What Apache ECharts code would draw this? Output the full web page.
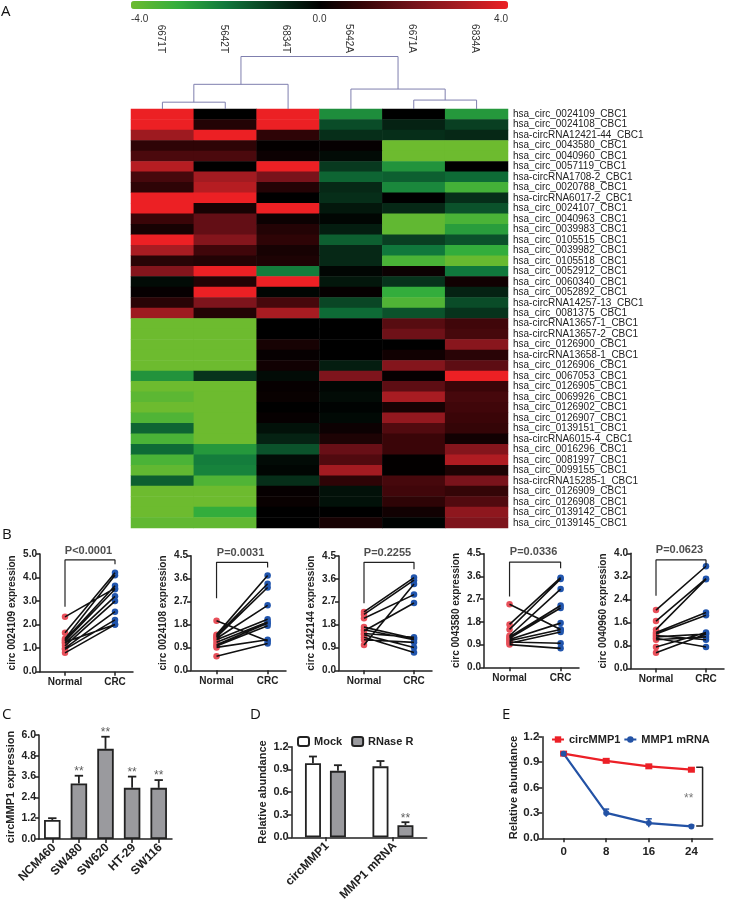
<!DOCTYPE html>
<html>
<head>
<meta charset="utf-8">
<script src="https://cdn.jsdelivr.net/npm/echarts@6/dist/echarts.min.js"></script>
<style>html,body{margin:0;padding:0;background:#fff}#c{width:736px;height:901px}</style>
</head>
<body>
<div id="c"></div>
<script>
// ---------- Panel A data ----------
const sampleLabels = ['6671T','5642T','6834T','5642A','6671A','6834A'];
const geneLabels = [
'hsa_circ_0024109_CBC1','hsa_circ_0024108_CBC1','hsa-circRNA12421-44_CBC1','hsa_circ_0043580_CBC1','hsa_circ_0040960_CBC1',
'hsa_circ_0057119_CBC1','hsa-circRNA1708-2_CBC1','hsa_circ_0020788_CBC1','hsa-circRNA6017-2_CBC1','hsa_circ_0024107_CBC1',
'hsa_circ_0040963_CBC1','hsa_circ_0039983_CBC1','hsa_circ_0105515_CBC1','hsa_circ_0039982_CBC1','hsa_circ_0105518_CBC1',
'hsa_circ_0052912_CBC1','hsa_circ_0060340_CBC1','hsa_circ_0052892_CBC1','hsa-circRNA14257-13_CBC1','hsa_circ_0081375_CBC1',
'hsa-circRNA13657-1_CBC1','hsa-circRNA13657-2_CBC1','hsa_circ_0126900_CBC1','hsa-circRNA13658-1_CBC1','hsa_circ_0126906_CBC1',
'hsa_circ_0067053_CBC1','hsa_circ_0126905_CBC1','hsa_circ_0069926_CBC1','hsa_circ_0126902_CBC1','hsa_circ_0126907_CBC1',
'hsa_circ_0139151_CBC1','hsa-circRNA6015-4_CBC1','hsa_circ_0016296_CBC1','hsa_circ_0081997_CBC1','hsa_circ_0099155_CBC1',
'hsa-circRNA15285-1_CBC1','hsa_circ_0126909_CBC1','hsa_circ_0126908_CBC1','hsa_circ_0139142_CBC1','hsa_circ_0139145_CBC1'];
const heatValues = [
[4,0,4,-2.4,0,-2.6],[4,0.6,4,-1.3,-0.6,-1.1],[2.8,4,0.8,-0.8,-0.8,-0.7],[0.8,0.8,0.05,0.1,-4,-4],[1.3,1.3,0.2,-0.2,-4,-4],
[3.2,0,4,-1,-2.5,0],[1.2,2.9,2.1,-1.7,-1.6,-1.8],[0.8,3.2,0.6,-0.7,-2.3,-3.3],[4,4,0,-0.8,0,-0.8],[4,0.4,4,-0.4,-0.7,-1.4],
[1,1.7,0.2,-0.1,-3.8,-3.4],[0.4,1.7,0.6,-0.5,-3.8,-2.7],[4,2.3,0.8,-1.6,-1.1,-1.4],[3,1.1,0.4,-0.7,-2,-3],[0.7,0.6,0.5,-0.7,-3.4,-3.9],
[2.3,4,-2.1,-0.1,0.2,-2],[-0.2,0.6,4,-0.4,-0.9,0.3],[0.1,4,-0.1,0.1,-3,-0.6],[0.7,2.2,1.2,-1.2,-3.5,-1.3],[2.8,0.6,3,-1.8,-1.4,-0.9],
[-4,-4,0,0,1.5,1.1],[-4,-4,0,0,1.9,1.2],[-4,-4,0.4,0,0,2.4],[-4,-4,0.1,0,0.3,0.7],[-4,-4,0.3,-0.5,2.3,1.6],
[-2.5,-0.9,-0.2,2.2,0.1,4],[-4,-4,0.1,-0.1,1.6,1.0],[-3.7,-4,0.15,-0.2,3,1.2],[-4,-4,0,-0.05,0.4,1.1],[-3.5,-4,0.1,-0.15,2.6,1],
[-1.7,-4,-0.3,0.2,1.4,0.9],[-3.4,-4,-0.6,0.5,1,0.3],[-1.8,-2.6,-1.4,1.8,1,2.3],[-3.4,-2.1,-0.2,1.4,0.05,3.1],[-3.8,-2.2,-0.1,2.9,0.05,0.5],
[-1.6,-3.5,-0.8,0.8,1.2,2.1],[-4,-4,0.1,-0.3,1.1,0.9],[-4,-4,0.15,-0.3,0.8,1.4],[-4,-3,0,0,0.3,2.5],[-3.8,-3.8,0,0.4,-0.05,2.2]];
// merge: left x, right x, left height, right height, merge height (column units / relative height)
const dendroMerges = [[0.5,1.5,0,0,0.13],[1,2.5,0.13,0,0.47],[4.5,5.5,0,0,0.17],[3.5,5,0,0.17,0.38],[1.75,4.25,0.47,0.38,1]];

// ---------- Panel B data ----------
const groupLabels = ['Normal','CRC'];
const normal0024109 = [2.33,1.65,1.4,1.35,1.3,1.25,1.2,1.1,1.0,0.95,0.8];
const crc0024109    = [3.55,4.2,4.1,3.65,3.5,2.0,3.2,3.0,2.55,2.2,2.0];
const normal0024108 = [1.95,1.4,1.35,1.3,1.25,1.2,1.1,1.0,0.95,0.9,0.55];
const crc0024108    = [1.15,3.72,3.4,3.25,2.55,2.0,1.9,1.85,1.75,1.2,1.05];
const normal1242144 = [2.3,2.2,2.05,1.7,1.6,1.55,1.45,1.4,1.3,1.2,1.0];
const crc1242144    = [3.65,3.55,2.98,1.25,1.2,2.65,1.3,0.9,0.7,1.1,3.4];
const normal0043580 = [2.5,1.7,1.5,1.25,1.2,1.15,1.1,1.05,1.0,0.95,0.9];
const crc0043580    = [1.5,3.55,3.5,3.1,2.45,2.35,1.75,1.5,0.95,1.4,0.75];
const normal0040960 = [2.03,1.65,1.35,1.25,1.2,1.15,1.1,1.05,1.0,0.75,0.55];
const crc0040960    = [3.55,3.12,3.1,1.95,1.85,1.0,1.2,0.75,1.1,1.25,1.2];

// ---------- Panel C data ----------
const lineLabels = ['NCM460','SW480','SW620','HT-29','SW116'];
const lineMeans  = [1.1,3.2,5.2,2.95,2.95];
const lineTops   = [1.2,3.65,5.9,3.6,3.4];

// ---------- Panel D data ----------
const treatLabels = ['circMMP1','MMP1 mRNA'];
const mockMeans   = [0.98,0.94];
const mockTops    = [1.07,1.01];
const rnaseMeans  = [0.88,0.16];
const rnaseTops   = [0.955,0.2];

// ---------- Panel E data ----------
const hourTicks  = [0,8,16,24];
const circSeries = [1.0,0.915,0.85,0.81];
const mrnaSeries = [1.0,0.3,0.18,0.14];
const mrnaErr    = [0.01,0.045,0.05,0.015];

// ---------- builders ----------
const FONT = '"Liberation Sans",Arial,sans-serif';
const INK = '#222';
const grid = [], xAxis = [], yAxis = [], series = [];
function addGrid(rect, x, y) {
  grid.push(Object.assign({containLabel:false,outerBoundsMode:'none'}, rect));
  const i = grid.length - 1;
  xAxis.push(Object.assign({gridIndex:i}, x));
  yAxis.push(Object.assign({gridIndex:i}, y));
  return i;
}
const hidden = {show:false};
function yVal(max, interval, name, gap, size, nameSize) {
  return {type:'value',min:0,max,interval,name,nameLocation:'middle',nameGap:gap,
    nameTextStyle:{fontFamily:FONT,fontWeight:'bold',fontSize:nameSize,color:INK},
    axisLine:{show:true,onZero:false,lineStyle:{color:INK,width:1.5}},
    axisTick:{show:true,length:4,lineStyle:{color:INK,width:1.5}},
    axisLabel:{margin:3,fontFamily:FONT,fontWeight:'bold',fontSize:size,color:INK,formatter:v=>v.toFixed(1)},
    splitLine:{show:false}};
}
function textSeries(g, points, style) {
  series.push({type:'scatter',xAxisIndex:g,yAxisIndex:g,symbolSize:0,silent:true,clip:false,z:6,
    data:points.map(p=>({value:[p[0],p[1]],label:{show:true,position:'inside',formatter:p[2],fontFamily:FONT,...style}}))});
}
function errSeries(g, xs, means, tops, color, offset, cap, width) {
  series.push({type:'custom',xAxisIndex:g,yAxisIndex:g,silent:true,clip:false,z:1,
    data:xs.map((x,i)=>[x,means[i],tops[i]]),
    renderItem(params, api){
      const a = api.coord([api.value(0),api.value(1)]);
      const b = api.coord([api.value(0),api.value(2)]);
      const s = {stroke:color,lineWidth:width};
      return {type:'group',children:[
        {type:'line',shape:{x1:a[0]+offset,y1:a[1],x2:a[0]+offset,y2:b[1]},style:s},
        {type:'line',shape:{x1:a[0]+offset-cap,y1:b[1],x2:a[0]+offset+cap,y2:b[1]},style:s}]};
    }});
}

// ---------- Panel A ----------
const heatG = addGrid({left:131,top:109,width:377,height:419},
  {type:'category',data:sampleLabels,position:'top',offset:52,axisLine:hidden,axisTick:hidden,
   axisLabel:{interval:0,rotate:90,margin:4,verticalAlign:'top',lineHeight:4,fontFamily:FONT,fontSize:10,color:'#333'},splitLine:hidden},
  {type:'category',data:geneLabels,inverse:true,position:'right',axisLine:hidden,axisTick:hidden,
   axisLabel:{interval:0,margin:5,fontFamily:FONT,fontSize:10,color:'#222'},splitLine:hidden});
series.push({type:'heatmap',xAxisIndex:heatG,yAxisIndex:heatG,silent:true,itemStyle:{borderWidth:0},
  data:heatValues.flatMap((row,r)=>row.map((v,c)=>[c,r,v]))});

addGrid({left:131,top:9,width:377,height:1},
  {type:'value',min:-4,max:4,interval:4,axisLine:hidden,axisTick:hidden,splitLine:hidden,
   axisLabel:{margin:4,alignMinLabel:'left',alignMaxLabel:'right',fontFamily:FONT,fontSize:10,color:'#333',formatter:v=>v.toFixed(1)}},
  {type:'value',show:false});

const dendroG = addGrid({left:131,top:56.5,width:377,height:52.5},
  {type:'value',min:0,max:6,show:false},{type:'value',min:0,max:1,show:false});
series.push({type:'line',xAxisIndex:dendroG,yAxisIndex:dendroG,symbol:'none',silent:true,clip:false,z:3,
  lineStyle:{color:'#7f7fae',width:1},
  data:dendroMerges.flatMap(m=>[[m[0],m[2]],[m[0],m[4]],[m[1],m[4]],[m[1],m[3]],[null,null]])});

// ---------- Panel B ----------
const pairPanels = [
  {left:40, top:554,  h:117.7,width:93,max:5.0,int:1.0,name:'circ 0024109 expression',nm:normal0024109,cr:crc0024109,p:'P<0.0001',br:[2.76,4.75,4.56],py:5.15},
  {left:191,top:555.7,h:114.6,width:95,max:4.5,int:0.9,name:'circ 0024108 expression',nm:normal0024108,cr:crc0024108,p:'P=0.0031',br:[2.83,4.24,4.04],py:4.6},
  {left:339,top:556,  h:114.3,width:93,max:4.5,int:0.9,name:'circ 1242144 expression',nm:normal1242144,cr:crc1242144,p:'P=0.2255',br:[2.64,4.25,3.98],py:4.6},
  {left:484,top:553.7,h:113.6,width:95,max:4.5,int:0.9,name:'circ 0043580 expression',nm:normal0043580,cr:crc0043580,p:'P=0.0336',br:[2.8,4.17,3.92],py:4.55},
  {left:631,top:553.3,h:115.3,width:93,max:4.0,int:0.8,name:'circ 0040960 expression',nm:normal0040960,cr:crc0040960,p:'P=0.0623',br:[2.53,3.77,3.57],py:4.12}];
pairPanels.forEach(p=>{
  const g = addGrid({left:p.left,top:p.top,width:p.width,height:p.h},
    {type:'value',min:-0.5,max:1.36,splitLine:hidden,
     axisLine:{show:true,onZero:false,lineStyle:{color:INK,width:1.5}},
     axisTick:{show:true,length:4,customValues:[0,1],lineStyle:{color:INK,width:1.5}},
     axisLabel:{customValues:[0,1],formatter:v=>groupLabels[v],margin:6,fontFamily:FONT,fontWeight:'bold',fontSize:10,color:INK}},
    yVal(p.max,p.int,p.name,23,10,10));
  series.push({type:'scatter',xAxisIndex:g,yAxisIndex:g,symbolSize:6.5,silent:true,clip:false,z:2,
    itemStyle:{color:'#e8505a',opacity:1},data:p.nm.map(v=>[0,v])});
  series.push({type:'scatter',xAxisIndex:g,yAxisIndex:g,symbolSize:6.5,silent:true,clip:false,z:2,
    itemStyle:{color:'#2155ad',opacity:1},data:p.cr.map(v=>[1,v])});
  series.push({type:'line',xAxisIndex:g,yAxisIndex:g,symbol:'none',silent:true,clip:false,z:3,
    lineStyle:{color:'#111',width:1.6},
    data:p.nm.flatMap((v,i)=>[[0,v],[1,p.cr[i]],[null,null]])});
  series.push({type:'line',xAxisIndex:g,yAxisIndex:g,symbol:'none',silent:true,clip:false,z:3,
    lineStyle:{color:'#222',width:1.2},
    data:[[0,p.br[0]],[0,p.br[1]],[1,p.br[1]],[1,p.br[2]]]});
  textSeries(g,[[0.47,p.py,p.p]],{fontWeight:'bold',fontSize:11,color:INK});
});

// ---------- Panel C ----------
const catLabel = {interval:0,rotate:45,margin:5,verticalAlign:'top',lineHeight:5,fontFamily:FONT,fontWeight:'bold',fontSize:12,color:INK};
const cG = addGrid({left:39,top:735,width:133,height:104},
  {type:'category',data:lineLabels,
   axisLine:{show:true,lineStyle:{color:INK,width:1.5}},
   axisTick:{show:true,alignWithLabel:true,length:4,lineStyle:{color:INK,width:1.5}},
   axisLabel:catLabel},
  yVal(6,1.2,'circMMP1 expression',23,10.5,11));
series.push({type:'bar',xAxisIndex:cG,yAxisIndex:cG,barWidth:16.5,silent:true,z:2,
  data:lineMeans.map((v,i)=>({value:v,itemStyle:{color:i===0?'#fff':'#9a9a9e',borderColor:'#222',borderWidth:1.8}}))});
errSeries(cG,lineLabels.map((_,i)=>i),lineMeans,lineTops,'#222',0,4.2,1.8);
textSeries(cG,lineLabels.slice(1).map((l,i)=>[i+1,lineTops[i+1]+0.25,'**']),{fontSize:12,color:'#333'});

// ---------- Panel D ----------
const dG = addGrid({left:291.7,top:746.7,width:135,height:90.6},
  {type:'category',data:treatLabels,
   axisLine:{show:true,lineStyle:{color:INK,width:1.5}},
   axisTick:{show:true,alignWithLabel:true,length:4,lineStyle:{color:INK,width:1.5}},
   axisLabel:catLabel},
  yVal(1.2,0.3,'Relative abundance',23,11,11));
series.push({type:'bar',name:'Mock',xAxisIndex:dG,yAxisIndex:dG,barWidth:16,barGap:'56%',silent:true,z:2,
  itemStyle:{color:'#fff',borderColor:'#222',borderWidth:1.8},data:mockMeans});
series.push({type:'bar',name:'RNase R',xAxisIndex:dG,yAxisIndex:dG,barWidth:16,barGap:'56%',silent:true,z:2,
  itemStyle:{color:'#9a9a9e',borderColor:'#222',borderWidth:1.8},data:rnaseMeans});
errSeries(dG,[0,1],mockMeans,mockTops,'#222',-12.5,4,1.8);
errSeries(dG,[0,1],rnaseMeans,rnaseTops,'#222',12.5,4,1.8);
series.push({type:'scatter',xAxisIndex:dG,yAxisIndex:dG,symbolSize:0,silent:true,clip:false,z:6,
  data:[{value:[1,rnaseTops[1]+0.05],label:{show:true,position:'inside',offset:[12.5,0],formatter:'**',fontFamily:FONT,fontSize:12,color:'#333'}}]});

// ---------- Panel E ----------
const eG = addGrid({left:542.3,top:736.7,width:170.4,height:101.6},
  {type:'value',min:-4,max:28,splitLine:hidden,
   axisLine:{show:true,onZero:false,lineStyle:{color:INK,width:1.5}},
   axisTick:{show:true,length:4,customValues:hourTicks,lineStyle:{color:INK,width:1.5}},
   axisLabel:{customValues:hourTicks,margin:8,fontFamily:FONT,fontWeight:'bold',fontSize:11.5,color:INK}},
  yVal(1.2,0.3,'Relative abundance',22,11.5,11));
series.push({type:'line',name:'circMMP1',xAxisIndex:eG,yAxisIndex:eG,symbol:'rect',symbolSize:[7,6],silent:true,clip:false,z:4,
  lineStyle:{color:'#ec2027',width:2.2},itemStyle:{color:'#ec2027'},data:hourTicks.map((h,i)=>[h,circSeries[i]])});
series.push({type:'line',name:'MMP1 mRNA',xAxisIndex:eG,yAxisIndex:eG,symbol:'circle',symbolSize:6,silent:true,clip:false,z:4,
  lineStyle:{color:'#2352a5',width:2.2},itemStyle:{color:'#2352a5'},data:hourTicks.map((h,i)=>[h,mrnaSeries[i]])});
errSeries(eG,hourTicks,mrnaSeries.map((v,i)=>v-mrnaErr[i]),mrnaSeries.map((v,i)=>v+mrnaErr[i]),'#2352a5',0,3,1.5);
series.push({type:'line',xAxisIndex:eG,yAxisIndex:eG,symbol:'none',silent:true,clip:false,z:3,
  lineStyle:{color:'#222',width:1.5},
  data:[[24.9,0.84],[26.1,0.84],[26.1,0.146],[24.9,0.146]]});
textSeries(eG,[[23.5,0.47,'**']],{fontSize:12,color:'#555'});

// ---------- panel letters ----------
const letters = [['A',1,4],['B',2,527],['C',2,707],['D',250,707],['E',502,707]];
const legendText = {fontFamily:FONT,fontWeight:'bold',fontSize:11,color:INK};

const option = {
  animation:false,
  backgroundColor:'#fff',
  textStyle:{fontFamily:FONT},
  grid,xAxis,yAxis,series,
  visualMap:{type:'continuous',seriesIndex:0,min:-4,max:4,orient:'horizontal',left:131,top:1,padding:0,
    itemWidth:8,itemHeight:377,calculable:false,realtime:false,hoverLink:false,text:null,showLabel:false,
    textStyle:{fontSize:0},
    inRange:{color:['#6dbb2f','#33ad3c','#10783c','#08391f','#000000','#3a0508','#74121a','#a81c22','#ec2024']}},
  legend:[
    {left:297,top:736,itemWidth:11,itemHeight:9,itemGap:9,padding:0,textStyle:legendText,data:['Mock','RNase R'],selectedMode:false},
    {left:551,top:734,itemWidth:12,itemHeight:8,itemGap:3,padding:0,textStyle:legendText,data:['circMMP1','MMP1 mRNA'],selectedMode:false}],
  graphic:letters.map(l=>({type:'text',left:l[1],top:l[2],silent:true,
    style:{text:l[0],fontFamily:'"Open Sans",sans-serif',fontSize:15,fill:'#111'}}))
};
const chart = echarts.init(document.getElementById('c'),null,{renderer:'canvas',width:736,height:901});
chart.setOption(option);
</script>
</body>
</html>
